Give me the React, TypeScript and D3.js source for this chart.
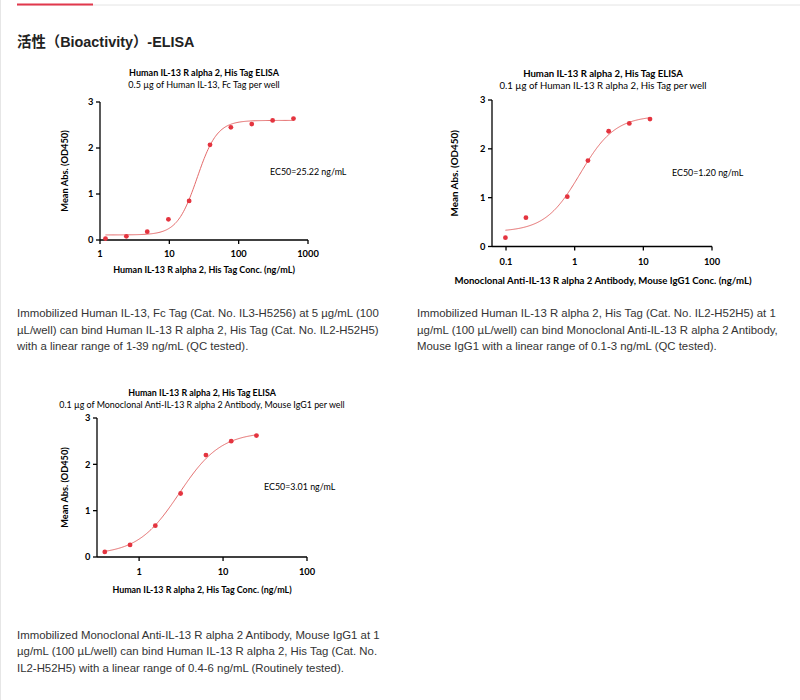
import React from 'react';
import * as d3 from 'd3';

// ---------- Data ----------
const c1Conc = [1.2, 2.4, 4.8, 9.7, 19.3, 38.6, 77.2, 154.4, 308.8, 617.5];
const c1OD = [0.03, 0.08, 0.18, 0.45, 0.85, 2.07, 2.45, 2.52, 2.6, 2.64];
const c1Fit = [0.11, 2.6, 25.22, 3.0]; // bottom, top, EC50, hill
const c1XTicks = [1, 10, 100, 1000];

const c2Conc = [0.098, 0.195, 0.78, 1.56, 3.125, 6.25, 12.5];
const c2OD = [0.18, 0.59, 1.02, 1.76, 2.36, 2.52, 2.61];
const c2Fit = [0.3, 2.68, 1.2, 1.7];
const c2XTicks = [0.1, 1, 10, 100];

const c3Conc = [0.39, 0.78, 1.56, 3.125, 6.25, 12.5, 25];
const c3OD = [0.11, 0.26, 0.675, 1.37, 2.2, 2.5, 2.62];
const c3Fit = [0.05, 2.7, 3.01, 1.75];
const c3XTicks = [1, 10, 100];

const yTicks = [0, 1, 2, 3];

const chartTitle = 'Human IL-13 R alpha 2, His Tag ELISA';
const c1Sub = '0.5 µg of Human IL-13, Fc Tag per well';
const c2Sub = '0.1 µg of Human IL-13 R alpha 2, His Tag per well';
const c3Sub = '0.1 µg of Monoclonal Anti-IL-13 R alpha 2 Antibody, Mouse IgG1 per well';
const c1XLabel = 'Human IL-13 R alpha 2, His Tag Conc. (ng/mL)';
const c2XLabel = 'Monoclonal Anti-IL-13 R alpha 2 Antibody, Mouse IgG1 Conc. (ng/mL)';
const c3XLabel = 'Human IL-13 R alpha 2, His Tag Conc. (ng/mL)';
const yLabel = 'Mean Abs. (OD450)';
const c1EC = 'EC50=25.22 ng/mL';
const c2EC = 'EC50=1.20 ng/mL';
const c3EC = 'EC50=3.01 ng/mL';

const para1 = [
  'Immobilized Human IL-13, Fc Tag (Cat. No. IL3-H5256) at 5 µg/mL (100',
  'µL/well) can bind Human IL-13 R alpha 2, His Tag (Cat. No. IL2-H52H5)',
  'with a linear range of 1-39 ng/mL (QC tested).',
];
const para2 = [
  'Immobilized Human IL-13 R alpha 2, His Tag (Cat. No. IL2-H52H5) at 1',
  'µg/mL (100 µL/well) can bind Monoclonal Anti-IL-13 R alpha 2 Antibody,',
  'Mouse IgG1 with a linear range of 0.1-3 ng/mL (QC tested).',
];
const para3 = [
  'Immobilized Monoclonal Anti-IL-13 R alpha 2 Antibody, Mouse IgG1 at 1',
  'µg/mL (100 µL/well) can bind Human IL-13 R alpha 2, His Tag (Cat. No.',
  'IL2-H52H5) with a linear range of 0.4-6 ng/mL (Routinely tested).',
];

const CH_FONT = 'Lato, "Open Sans", sans-serif';
const TXT_FONT = '"Liberation Sans", Arial, sans-serif';
const PT_COLOR = '#e4343f';
const CURVE_COLOR = '#e46a6a';

type ChartProps = {
  conc: number[];
  od: number[];
  fit: number[];
  xDomain: [number, number];
  xTicks: number[];
  left: number;
  right: number;
  top: number;
  bottom: number;
  cx: number;
  titleY: number;
  subY: number;
  sub: string;
  xLabel: string;
  xLabelY: number;
  yLabelX: number;
  tickLabelY: number;
  ec: string;
  ecX: number;
  ecY: number;
  fs: number;
};

function fourPL(fit: number[], x: number) {
  const [b, t, ec, h] = fit;
  return b + (t - b) / (1 + Math.pow(ec / x, h));
}

function Chart(p: ChartProps) {
  const x = d3.scaleLog().domain(p.xDomain).range([p.left, p.right]);
  const y = d3.scaleLinear().domain([0, 3]).range([p.bottom, p.top]);
  const lo = Math.log10(p.conc[0]);
  const hi = Math.log10(p.conc[p.conc.length - 1]);
  const samples = d3.range(0, 201).map((i) => Math.pow(10, lo + ((hi - lo) * i) / 200));
  const line = d3
    .line<number>()
    .x((d) => x(d))
    .y((d) => y(fourPL(p.fit, d)));
  const yMid = (p.top + p.bottom) / 2;
  return (
    <g fontFamily={CH_FONT} fill="#000">
      <text x={p.cx} y={p.titleY} textAnchor="middle" fontSize={p.fs} fontWeight="bold">
        {chartTitle}
      </text>
      <text x={p.cx} y={p.subY} textAnchor="middle" fontSize={p.fs}>
        {p.sub}
      </text>
      {/* axes */}
      <line x1={p.left} x2={p.left} y1={p.bottom} y2={p.top} stroke="#000" strokeWidth={1.3} />
      <line x1={p.left} x2={p.right} y1={p.bottom} y2={p.bottom} stroke="#000" strokeWidth={1.3} />
      {yTicks.map((t) => (
        <g key={'y' + t}>
          <line x1={p.left - 4} x2={p.left} y1={y(t)} y2={y(t)} stroke="#000" strokeWidth={1.3} />
          <text x={p.left - 6.5} y={y(t) + 3.2} textAnchor="end" fontSize={9.3} fontWeight="bold">
            {t}
          </text>
        </g>
      ))}
      {p.xTicks.map((t) => (
        <g key={'x' + t}>
          <line x1={x(t)} x2={x(t)} y1={p.bottom} y2={p.bottom + 4} stroke="#000" strokeWidth={1.3} />
          <text x={x(t)} y={p.tickLabelY} textAnchor="middle" fontSize={9.3} fontWeight="bold">
            {String(t)}
          </text>
        </g>
      ))}
      <path d={line(samples) || ''} fill="none" stroke={CURVE_COLOR} strokeWidth={1} />
      {p.conc.map((c, i) => (
        <circle key={'p' + i} cx={x(c)} cy={y(p.od[i])} r={2.4} fill={PT_COLOR} />
      ))}
      <text x={p.ecX} y={p.ecY} fontSize={8.9}>
        {p.ec}
      </text>
      <text x={p.cx} y={p.xLabelY} textAnchor="middle" fontSize={p.fs} fontWeight="bold">
        {p.xLabel}
      </text>
      <text
        transform={`translate(${p.yLabelX},${yMid}) rotate(-90)`}
        textAnchor="middle"
        fontSize={p.fs + 0.3}
        fontWeight="bold"
      >
        {yLabel}
      </text>
    </g>
  );
}

function Para({ lines, x, y }: { lines: string[]; x: number; y: number }) {
  return (
    <g fontFamily={TXT_FONT} fontSize={11.4} fill="#333">
      {lines.map((l, i) => (
        <text key={i} x={x} y={y + i * 16.7}>
          {l}
        </text>
      ))}
    </g>
  );
}

export default function App() {
  return (
    <svg
      width={800}
      height={700}
      style={{ position: 'absolute', left: 0, top: 0, background: '#fff' }}
    >
      <rect x={0} y={0} width={800} height={700} fill="#fff" />
      <line x1={0.5} x2={0.5} y1={0} y2={700} stroke="#e6e6e6" />
      <line x1={17} x2={800} y1={5} y2={5} stroke="#e4e4e4" strokeWidth={1} />
      <line x1={17} x2={93} y1={4.5} y2={4.5} stroke="#e2384d" strokeWidth={2} />
      <text
        x={17}
        y={46.5}
        fontFamily={'"Liberation Sans", "Noto Sans CJK SC", sans-serif'}
        fontSize={14.4}
        fontWeight="bold"
        fill="#222"
      >
        活性（Bioactivity）-ELISA
      </text>

      <Chart
        conc={c1Conc}
        od={c1OD}
        fit={c1Fit}
        xDomain={[1, 1000]}
        xTicks={c1XTicks}
        left={100}
        right={308}
        top={102}
        bottom={240}
        cx={204}
        titleY={76}
        subY={87.5}
        sub={c1Sub}
        xLabel={c1XLabel}
        xLabelY={273}
        yLabelX={68}
        tickLabelY={256.5}
        ec={c1EC}
        ecX={270}
        ecY={175}
        fs={9}
      />
      <Chart
        conc={c2Conc}
        od={c2OD}
        fit={c2Fit}
        xDomain={[0.0625, 100]}
        xTicks={c2XTicks}
        left={492}
        right={712}
        top={100}
        bottom={246.5}
        cx={603}
        titleY={77}
        subY={89}
        sub={c2Sub}
        xLabel={c2XLabel}
        xLabelY={284}
        yLabelX={458}
        tickLabelY={265}
        ec={c2EC}
        ecX={672}
        ecY={176}
        fs={9.6}
      />
      <Chart
        conc={c3Conc}
        od={c3OD}
        fit={c3Fit}
        xDomain={[0.315, 100]}
        xTicks={c3XTicks}
        left={97}
        right={307}
        top={418}
        bottom={557}
        cx={202}
        titleY={396}
        subY={408}
        sub={c3Sub}
        xLabel={c3XLabel}
        xLabelY={593}
        yLabelX={68}
        tickLabelY={575}
        ec={c3EC}
        ecX={264}
        ecY={490}
        fs={8.9}
      />

      <Para lines={para1} x={17} y={317} />
      <Para lines={para2} x={417} y={317} />
      <Para lines={para3} x={17} y={638.5} />
    </svg>
  );
}
